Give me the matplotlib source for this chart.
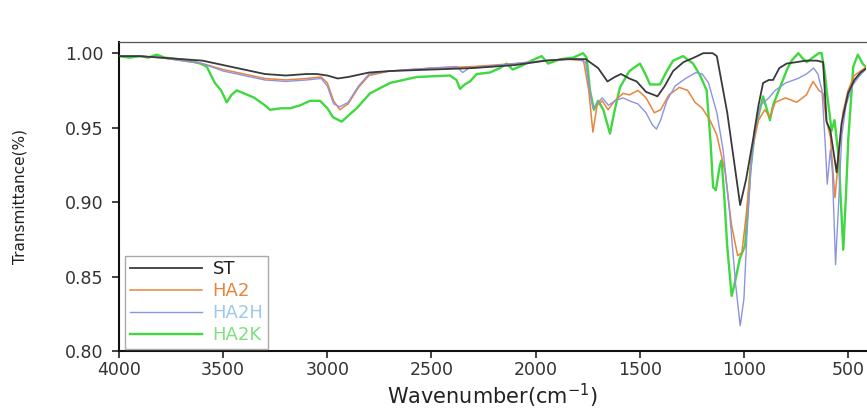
import matplotlib
matplotlib.use("Agg")
import matplotlib.pyplot as plt

# ---------------- data ----------------
st_wn = [4000, 3900, 3800, 3700, 3600, 3500, 3400, 3300, 3200, 3100, 3050, 3000, 2950, 2900,
         2800, 2700, 2500, 2300, 2100, 1950, 1850, 1760, 1700, 1655, 1620, 1590, 1550, 1515,
         1470, 1415, 1380, 1340, 1290, 1240, 1195, 1150, 1130, 1080, 1040, 1018, 990, 956,
         930, 908, 880, 860, 830, 795, 700, 650, 620, 603, 585, 555, 531, 500, 470, 440, 410]
st_t = [0.998, 0.998, 0.997, 0.996, 0.995, 0.992, 0.989, 0.986, 0.985, 0.986, 0.986, 0.985,
        0.983, 0.984, 0.987, 0.988, 0.989, 0.990, 0.992, 0.995, 0.996, 0.996, 0.990, 0.981,
        0.984, 0.986, 0.983, 0.981, 0.974, 0.971, 0.978, 0.988, 0.994, 0.997, 1.000, 1.000,
        0.998, 0.960, 0.920, 0.898, 0.915, 0.942, 0.965, 0.980, 0.982, 0.982, 0.990, 0.993,
        0.995, 0.995, 0.994, 0.954, 0.948, 0.920, 0.953, 0.973, 0.982, 0.987, 0.990]

ha2_wn = [4000, 3900, 3800, 3700, 3600, 3500, 3400, 3300, 3200, 3100, 3030, 3000, 2970, 2940,
          2900, 2850, 2800, 2700, 2500, 2300, 2100, 1950, 1850, 1770, 1745, 1725, 1705, 1680,
          1652, 1620, 1580, 1550, 1508, 1470, 1430, 1400, 1360, 1310, 1270, 1235, 1200, 1163,
          1130, 1090, 1060, 1030, 1010, 990, 960, 930, 900, 875, 850, 800, 747, 700, 668, 640,
          620, 605, 585, 563, 545, 525, 500, 470, 440, 410]
ha2_t = [0.998, 0.998, 0.997, 0.995, 0.993, 0.989, 0.986, 0.983, 0.982, 0.983, 0.984, 0.980,
         0.968, 0.962, 0.966, 0.977, 0.985, 0.988, 0.990, 0.991, 0.993, 0.995, 0.996, 0.995,
         0.975, 0.947, 0.965, 0.968, 0.962, 0.968, 0.973, 0.972, 0.975, 0.970, 0.960, 0.962,
         0.972, 0.977, 0.975, 0.967, 0.963, 0.955, 0.945, 0.920, 0.885, 0.864, 0.866, 0.890,
         0.935, 0.955, 0.962, 0.957, 0.967, 0.970, 0.967, 0.972, 0.981, 0.975, 0.973, 0.955,
         0.944, 0.903, 0.930, 0.960, 0.975, 0.985, 0.988, 0.991]

ha2h_wn = [4000, 3900, 3800, 3700, 3600, 3500, 3400, 3300, 3200, 3100, 3030, 3000, 2970, 2940,
           2900, 2850, 2800, 2700, 2500, 2380, 2350, 2320, 2100, 1950, 1800, 1760, 1740, 1725,
           1705, 1680, 1650, 1620, 1580, 1550, 1510, 1470, 1440, 1420, 1400, 1370, 1330, 1280,
           1230, 1200, 1170, 1130, 1100, 1070, 1040, 1018, 1000, 985, 965, 945, 920, 880, 850,
           800, 740, 700, 665, 645, 625, 610, 600, 585, 575, 560, 545, 530, 510, 480, 450, 410]
ha2h_t = [0.998, 0.998, 0.997, 0.995, 0.993, 0.988, 0.985, 0.982, 0.981, 0.982, 0.983, 0.978,
          0.966, 0.964, 0.967, 0.978, 0.986, 0.988, 0.990, 0.991, 0.987, 0.990, 0.993, 0.995,
          0.996, 0.994, 0.975, 0.963, 0.966, 0.970, 0.965, 0.968, 0.970, 0.968, 0.966, 0.960,
          0.952, 0.949, 0.955, 0.968, 0.978, 0.983, 0.987, 0.986, 0.980, 0.960, 0.935, 0.895,
          0.845, 0.817, 0.835, 0.880, 0.925, 0.950, 0.965, 0.970, 0.975, 0.980, 0.983, 0.986,
          0.990, 0.986, 0.975, 0.940, 0.912, 0.935, 0.920, 0.858, 0.900, 0.945, 0.965, 0.978,
          0.984, 0.990]

ha2k_wn = [4000, 3950, 3900, 3860, 3820, 3780, 3720, 3660, 3610, 3579, 3540, 3510, 3483, 3460,
           3435, 3400, 3350, 3300, 3275, 3220, 3179, 3130, 3083, 3035, 3000, 2973, 2931, 2900,
           2859, 2795, 2699, 2571, 2411, 2380, 2363, 2340, 2315, 2283, 2220, 2171, 2139, 2110,
           2060, 2020, 1971, 1940, 1880, 1820, 1772, 1755, 1739, 1720, 1700, 1675, 1643, 1620,
           1595, 1550, 1499, 1470, 1451, 1403, 1370, 1340, 1292, 1244, 1210, 1179, 1160, 1148,
           1135, 1115, 1107, 1095, 1080, 1059, 1045, 1020, 994, 970, 947, 908, 875, 860, 827,
           790, 771, 739, 715, 698, 670, 640, 627, 610, 603, 579, 565, 545, 523, 510, 499, 475,
           453, 430, 411]
ha2k_t = [0.998, 0.997, 0.998, 0.997, 0.999, 0.997, 0.996, 0.995, 0.993, 0.991, 0.980, 0.975,
          0.967, 0.972, 0.975, 0.973, 0.970, 0.965, 0.962, 0.963, 0.963, 0.965, 0.968, 0.968,
          0.963, 0.957, 0.954, 0.958, 0.963, 0.973, 0.980, 0.984, 0.985, 0.982, 0.976, 0.979,
          0.981, 0.986, 0.987, 0.990, 0.993, 0.989, 0.992, 0.995, 0.998, 0.993, 0.996, 0.997,
          1.000, 0.997, 0.975, 0.962, 0.968, 0.962, 0.946, 0.962, 0.977, 0.988, 0.993, 0.985,
          0.979, 0.979, 0.988, 0.995, 0.998, 0.993, 0.985, 0.975, 0.940, 0.910, 0.908, 0.925,
          0.928, 0.905, 0.870, 0.837, 0.845, 0.862, 0.871, 0.920, 0.948, 0.971, 0.955, 0.965,
          0.977, 0.990, 0.995, 1.000, 0.996, 0.994, 0.997, 1.000, 1.000, 0.985, 0.975, 0.948,
          0.955, 0.930, 0.868, 0.905, 0.942, 0.991, 0.999, 0.993, 0.990]

labels = ["ST", "HA2", "HA2H", "HA2K"]
xticks = [4000, 3500, 3000, 2500, 2000, 1500, 1000, 500]
yticks = [0.80, 0.85, 0.90, 0.95, 1.00]

# ---------------- styling ----------------
line_colors = ["#3a3a3a", "#e8843c", "#8c94e0", "#3fd83f"]
text_colors = ["#222222", "#e8843c", "#9cc8ec", "#7ee07e"]
widths = [1.3, 1.1, 1.0, 1.7]
zorders = [5, 3, 4, 2]

fig = plt.figure(figsize=(8.67, 4.08), dpi=100)
ax = fig.add_axes([0.1373, 0.1397, 0.862, 0.757])

series = [(st_wn, st_t), (ha2_wn, ha2_t), (ha2h_wn, ha2h_t), (ha2k_wn, ha2k_t)]
for (wn, t), lab, c, lw, z in zip(series, labels, line_colors, widths, zorders):
    ax.plot(wn, t, color=c, lw=lw, label=lab, zorder=z)

ax.set_xlim(4000, 412)
ax.set_ylim(0.80, 1.0074)
ax.set_xticks(xticks)
ax.set_yticks(yticks)
ax.set_yticklabels([f"{v:.2f}" for v in yticks])

for side in ["left", "bottom"]:
    ax.spines[side].set_linewidth(1.5)
    ax.spines[side].set_color("#111111")
ax.spines["top"].set_linewidth(0.9)
ax.spines["top"].set_color("#555555")
ax.spines["right"].set_visible(False)

ax.tick_params(axis="both", direction="out", length=5, width=1.2,
               labelsize=12.5, labelcolor="#333333", color="#222222")
ax.tick_params(axis="x", pad=2)
ax.tick_params(axis="y", pad=6)

ax.set_xlabel("Wavenumber(cm$^{-1}$)", fontsize=15, color="#222222", labelpad=2)
ax.set_ylabel("Transmittance(%)", fontsize=11, color="#222222", labelpad=27)

leg = ax.legend(loc="lower left", bbox_to_anchor=(0.008, 0.008), borderaxespad=0,
                fontsize=13, handlelength=4.0, labelspacing=0.22, borderpad=0.25,
                handletextpad=0.6, fancybox=False, framealpha=1,
                edgecolor="#aaaaaa")
leg.get_frame().set_linewidth(1.0)
for txt, tc in zip(leg.get_texts(), text_colors):
    txt.set_color(tc)

fig.savefig("out.png", dpi=100)
